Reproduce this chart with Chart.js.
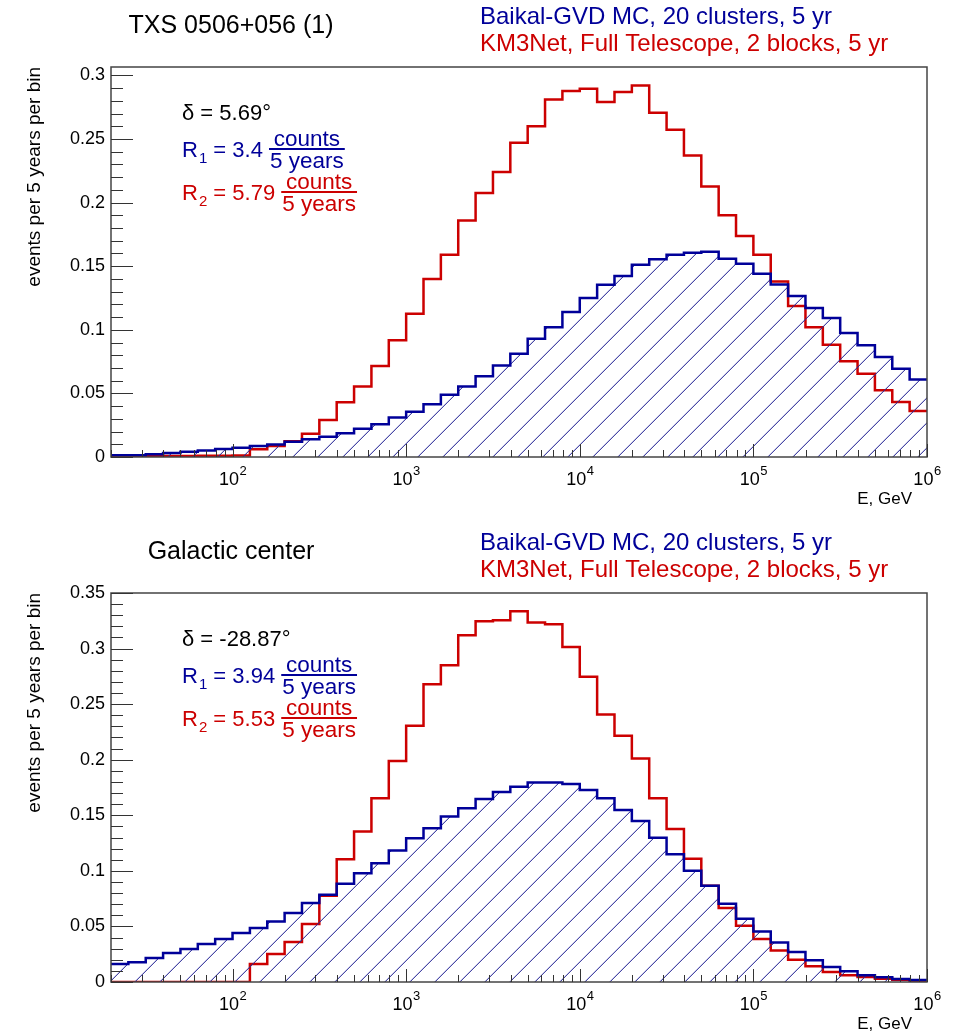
<!DOCTYPE html>
<html>
<head>
<meta charset="utf-8">
<script src="https://cdn.jsdelivr.net/npm/chart.js@4"></script>
<style>
  body { margin: 0; background: #fff; }
  canvas { display: block; }
</style>
</head>
<body>
<canvas id="txsChart" width="960" height="517"></canvas>
<canvas id="gcChart" width="960" height="516"></canvas>
<script>
// bin edges, log10(E / GeV), 0.1 decade bins
const logEdges = [1.3, 1.4, 1.5, 1.6, 1.7, 1.8, 1.9, 2.0, 2.1, 2.2, 2.3, 2.4, 2.5, 2.6, 2.7, 2.8,
                  2.9, 3.0, 3.1, 3.2, 3.3, 3.4, 3.5, 3.6, 3.7, 3.8, 3.9, 4.0, 4.1, 4.2, 4.3, 4.4,
                  4.5, 4.6, 4.7, 4.8, 4.9, 5.0, 5.1, 5.2, 5.3, 5.4, 5.5, 5.6, 5.7, 5.8, 5.9, 6.0];
const xTickExponents = [2, 3, 4, 5, 6];

// TXS 0506+056
const txsBaikal = [0.0013, 0.0013, 0.0022, 0.0032, 0.0042, 0.0052, 0.0062, 0.0073, 0.0086, 0.0099,
                   0.012, 0.014, 0.016, 0.0186, 0.0222, 0.0257, 0.031, 0.0356, 0.0414, 0.049,
                   0.0555, 0.0634, 0.072, 0.0812, 0.093, 0.102, 0.114, 0.125, 0.1354, 0.1423,
                   0.1512, 0.1554, 0.159, 0.1606, 0.1614, 0.1559, 0.152, 0.1441, 0.1357, 0.1265,
                   0.1171, 0.1092, 0.0975, 0.0878, 0.0786, 0.0694, 0.061];
const txsKm3 = [0.0005, 0.0005, 0.0006, 0.0007, 0.0008, 0.0009, 0.001, 0.0012, 0.006, 0.0087,
                0.0123, 0.0183, 0.029, 0.043, 0.0555, 0.0715, 0.0917, 0.1127, 0.140, 0.159,
                0.186, 0.2075, 0.224, 0.247, 0.260, 0.281, 0.2877, 0.2895, 0.279, 0.2869,
                0.2921, 0.2706, 0.2573, 0.2371, 0.2127, 0.190, 0.1737, 0.159, 0.138, 0.1187,
                0.102, 0.0883, 0.0752, 0.0655, 0.0524, 0.0432, 0.0362];

// Galactic center
const gcBaikal = [0.0162, 0.0177, 0.0216, 0.026, 0.0296, 0.0341, 0.0386, 0.044, 0.0485, 0.0545,
                  0.062, 0.071, 0.0784, 0.0883, 0.0979, 0.1069, 0.1183, 0.1293, 0.1383, 0.1488,
                  0.1563, 0.1647, 0.171, 0.1757, 0.1796, 0.1796, 0.1781, 0.1728, 0.1653, 0.1548,
                  0.1449, 0.1299, 0.115, 0.1, 0.0865, 0.0704, 0.0569, 0.0455, 0.0356, 0.0269,
                  0.0195, 0.0135, 0.0096, 0.006, 0.0042, 0.0027, 0.0018];
const gcKm3 = [0, 0, 0, 0, 0, 0, 0, 0, 0.0162, 0.0251,
               0.0359, 0.0521, 0.0775, 0.1105, 0.1353, 0.1653, 0.1988, 0.2305, 0.268, 0.285,
               0.312, 0.3246, 0.3254, 0.3335, 0.3234, 0.3219, 0.3015, 0.2746, 0.2407, 0.2216,
               0.2012, 0.1653, 0.1377, 0.1108, 0.0865, 0.0665, 0.0506, 0.0386, 0.0284, 0.0201,
               0.0141, 0.009, 0.006, 0.0045, 0.003, 0.002, 0.0012];

const legendBaikal = 'Baikal-GVD MC, 20 clusters, 5 yr';
const legendKm3 = 'KM3Net, Full Telescope, 2 blocks, 5 yr';
const yTitle = 'events per 5 years per bin';
const xTitle = 'E, GeV';

const BLUE = '#000099';
const RED = '#cc0000';
const FONT = '"Liberation Sans", Arial, sans-serif';

function histPoints(values) {
    return logEdges.map((le, i) => ({ x: Math.pow(10, le), y: values[Math.min(i, values.length - 1)] }));
}

// thin "/" hatching, one pixel per row so the tiles join cleanly
function hatch(ctx) {
    const s = 25;
    const c = document.createElement('canvas');
    c.width = s; c.height = s;
    const g = c.getContext('2d');
    g.fillStyle = 'rgba(40, 40, 150, 0.85)';
    for (let i = 0; i < s; i++) {
        g.fillRect(i, s - 1 - i, 1, 1);
    }
    g.fillStyle = 'rgba(40, 40, 150, 0.25)';
    for (let i = 0; i < s; i++) {
        g.fillRect(i, (2 * s - 2 - i) % s, 1, 1);
    }
    return ctx.createPattern(c, 'repeat');
}

// R = value counts / 5 years
function drawRate(ctx, x, y, sub, value, color) {
    ctx.fillStyle = color;
    ctx.strokeStyle = color;
    ctx.textAlign = 'left';
    ctx.textBaseline = 'alphabetic';
    ctx.font = `22px ${FONT}`;
    ctx.fillText('R', x, y + 8);
    let cx = x + ctx.measureText('R').width;
    ctx.font = `15px ${FONT}`;
    ctx.fillText(sub, cx + 1, y + 14);
    cx += ctx.measureText(sub).width + 1;
    ctx.font = `22px ${FONT}`;
    const t = ' = ' + value + ' ';
    ctx.fillText(t, cx, y + 8);
    cx += ctx.measureText(t).width;
    ctx.font = `22.5px ${FONT}`;
    const w = Math.max(ctx.measureText('counts').width, ctx.measureText('5 years').width) + 2;
    ctx.textAlign = 'center';
    ctx.fillText('counts', cx + w / 2, y - 3);
    ctx.fillText('5 years', cx + w / 2, y + 19);
    ctx.lineWidth = 2;
    ctx.beginPath();
    ctx.moveTo(cx, y); ctx.lineTo(cx + w, y);
    ctx.stroke();
}

const rootDecor = {
    id: 'rootDecor',
    afterDraw(chart, args, opts) {
        const { ctx, chartArea: a } = chart;
        const x = chart.scales.x, y = chart.scales.y;
        ctx.save();

        // frame
        ctx.strokeStyle = '#444';
        ctx.lineWidth = 1.5;
        ctx.strokeRect(a.left, a.top, a.right - a.left, a.bottom - a.top);

        // ticks inside the frame
        ctx.strokeStyle = '#333';
        ctx.lineWidth = 1;
        ctx.beginPath();
        for (let i = 0; i * 0.01 <= y.max + 1e-9; i++) {
            const py = Math.round(y.getPixelForValue(i * 0.01)) + 0.5;
            const len = i % 5 === 0 ? 22 : 12;
            ctx.moveTo(a.left, py); ctx.lineTo(a.left + len, py);
        }
        for (let d = 1; d <= 6; d++) {
            for (let m = 1; m <= 9; m++) {
                const v = m * Math.pow(10, d);
                if (v < x.min * 0.999 || v > x.max * 1.001) continue;
                const px = Math.round(x.getPixelForValue(v)) + 0.5;
                const len = m === 1 ? 13 : 7;
                ctx.moveTo(px, a.bottom); ctx.lineTo(px, a.bottom - len);
            }
        }
        ctx.stroke();

        // x tick labels 10^n
        ctx.fillStyle = '#000';
        ctx.textBaseline = 'alphabetic';
        ctx.textAlign = 'left';
        xTickExponents.forEach(n => {
            const px = x.getPixelForValue(Math.pow(10, n));
            ctx.font = `18px ${FONT}`;
            const w10 = ctx.measureText('10').width;
            ctx.font = `13px ${FONT}`;
            const wn = ctx.measureText(String(n)).width;
            const x0 = px - (w10 + wn) / 2;
            ctx.font = `18px ${FONT}`;
            ctx.fillText('10', x0, a.bottom + 28);
            ctx.font = `13px ${FONT}`;
            ctx.fillText(String(n), x0 + w10 + 0.5, a.bottom + 18);
        });

        // axis titles
        ctx.font = `17px ${FONT}`;
        ctx.textAlign = 'right';
        ctx.fillText(xTitle, 912, a.bottom + 47);
        ctx.save();
        ctx.translate(35, a.top);
        ctx.rotate(-Math.PI / 2);
        ctx.font = `19px ${FONT}`;
        ctx.textAlign = 'right';
        ctx.textBaseline = 'middle';
        ctx.fillText(yTitle, 0, 0);
        ctx.restore();

        // header: source name and legend
        ctx.textBaseline = 'alphabetic';
        ctx.font = `25px ${FONT}`;
        ctx.textAlign = 'center';
        ctx.fillStyle = '#000';
        ctx.fillText(opts.title, 231, a.top - 34);
        ctx.font = `24px ${FONT}`;
        ctx.textAlign = 'left';
        ctx.fillStyle = BLUE;
        ctx.fillText(legendBaikal, 480, a.top - 43);
        ctx.fillStyle = RED;
        ctx.fillText(legendKm3, 480, a.top - 16);

        // annotations inside the frame
        ctx.font = `22px ${FONT}`;
        ctx.fillStyle = '#000';
        ctx.fillText('δ = ' + opts.delta + '°', a.left + 71, a.top + 53);
        drawRate(ctx, a.left + 71, a.top + 82, '1', opts.r1, BLUE);
        drawRate(ctx, a.left + 71, a.top + 125, '2', opts.r2, RED);

        ctx.restore();
    }
};

function makeChart(id, baikal, km3, yMax, pad, info) {
    const ctx = document.getElementById(id).getContext('2d');
    return new Chart(ctx, {
        type: 'line',
        data: {
            datasets: [
                {
                    label: legendBaikal,
                    data: histPoints(baikal),
                    borderColor: BLUE,
                    borderWidth: 2.5,
                    backgroundColor: hatch(ctx),
                    fill: 'origin',
                    stepped: true,
                    pointRadius: 0
                },
                {
                    label: legendKm3,
                    data: histPoints(km3),
                    borderColor: RED,
                    borderWidth: 2.5,
                    fill: false,
                    stepped: true,
                    pointRadius: 0
                }
            ]
        },
        options: {
            responsive: false,
            animation: false,
            layout: { padding: pad },
            scales: {
                x: {
                    type: 'logarithmic',
                    min: Math.pow(10, logEdges[0]),
                    max: Math.pow(10, logEdges[logEdges.length - 1]),
                    display: false
                },
                y: {
                    min: 0,
                    max: yMax,
                    afterFit: s => { s.width = 111; },
                    grid: { display: false, drawTicks: false },
                    border: { display: false },
                    ticks: {
                        stepSize: 0.05,
                        includeBounds: false,
                        padding: 6,
                        color: '#000',
                        font: { family: FONT, size: 18 },
                        callback: v => String(Math.round(v * 100) / 100)
                    }
                }
            },
            plugins: {
                legend: { display: false },
                tooltip: { enabled: false },
                rootDecor: info
            }
        },
        plugins: [rootDecor]
    });
}

makeChart('txsChart', txsBaikal, txsKm3, 0.3066,
    { top: 67, right: 33, bottom: 60, left: 0 },
    { title: 'TXS 0506+056 (1)', delta: '5.69', r1: '3.4', r2: '5.79' });

makeChart('gcChart', gcBaikal, gcKm3, 0.35,
    { top: 76, right: 33, bottom: 51, left: 0 },
    { title: 'Galactic center', delta: '-28.87', r1: '3.94', r2: '5.53' });
</script>
</body>
</html>
